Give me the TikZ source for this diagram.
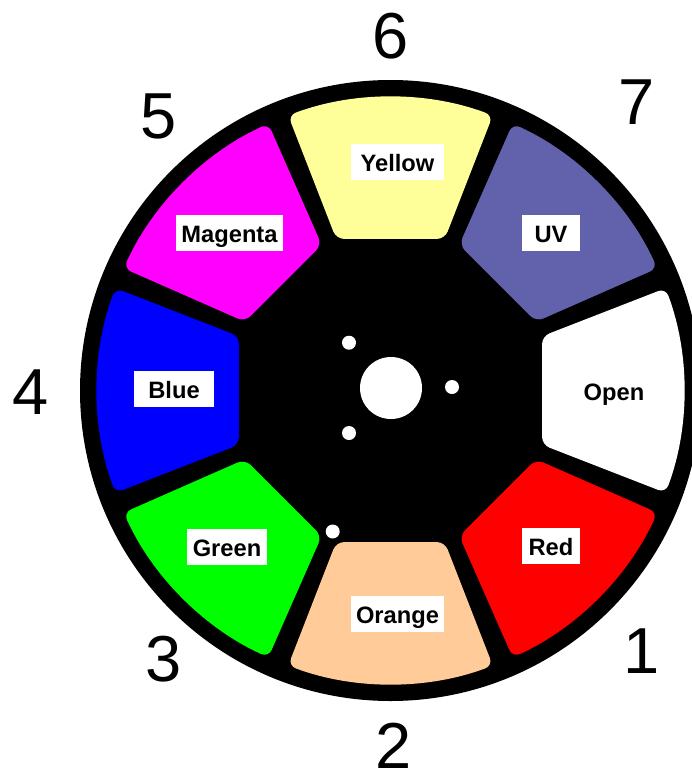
\documentclass[tikz,border=0pt]{standalone}
\usepackage{fontspec}
\setmainfont{Liberation Sans}
\definecolor{wheelyellow}{RGB}{255,255,153}
\definecolor{wheeluv}{RGB}{98,97,171}
\definecolor{wheelorange}{RGB}{255,204,153}
\definecolor{wheelmagenta}{RGB}{255,0,255}
\tikzset{
  slotlabel/.style={fill=white, inner sep=0pt, text height=27pt, text depth=9pt, font=\fontsize{23.7}{26}\selectfont\bfseries},
  slotnumber/.style={inner sep=0pt, text=black, font=\fontsize{65}{70}\selectfont},
  smallhole/.style={fill=white}
}

\begin{document}
\begin{tikzpicture}[x=1pt,y=1pt]
  \useasboundingbox (0,-772) rectangle (692,0);
  \def\cx{390.5}
  \def\cy{-390.5}
  \def\Rout{310.5}
  \def\Rin{293.5}

  % disque
  \fill[black] (\cx,\cy) circle (\Rout);

  % secteurs
  \foreach \a/\col in {90/wheelyellow,45/wheeluv,0/white,-45/red,-90/wheelorange,-135/green,180/blue,135/wheelmagenta}{
    \fill[\col,rounded corners=8pt,shift={(\cx,\cy)}] (\a-20.4:\Rin) arc[start angle=\a-20.4,end angle=\a+20.4,radius=\Rin]
      -- (\a+19.7:161) -- (\a-19.7:161) -- cycle;
  }

  % trous
  \fill[white] (391,-388) circle (31);
  \foreach \x/\y in {349/342.7,452/387,349/433,332.7/531.5}{
    \fill[smallhole] (\x,-\y) circle (7);
  }

  % noms
  \node[slotlabel,minimum width=93pt] (yellow) at (397.5,-162) {Yellow};
  \node[slotlabel,minimum width=58pt] (uv) at (551,-233) {UV};
  \node[slotlabel,minimum width=58pt] (open) at (614,-391) {Open};
  \node[slotlabel,minimum width=58pt] (red) at (551,-546) {Red};
  \node[slotlabel,minimum width=93pt] (orange) at (397.5,-614) {Orange};
  \node[slotlabel,minimum width=80pt] (green) at (227,-547) {Green};
  \node[slotlabel,minimum width=80pt] (blue) at (174,-389) {Blue};
  \node[slotlabel,minimum width=107pt] (magenta) at (229.5,-233) {Magenta};

  % numeros
  \node[slotnumber] (n1) at (642,-651) {1};
  \node[slotnumber] (n2) at (394,-746) {2};
  \node[slotnumber] (n3) at (164,-659) {3};
  \node[slotnumber] (n4) at (31,-392) {4};
  \node[slotnumber] (n5) at (159,-116) {5};
  \node[slotnumber] (n6) at (391,-36) {6};
  \node[slotnumber] (n7) at (637,-102) {7};
\end{tikzpicture}
\end{document}
